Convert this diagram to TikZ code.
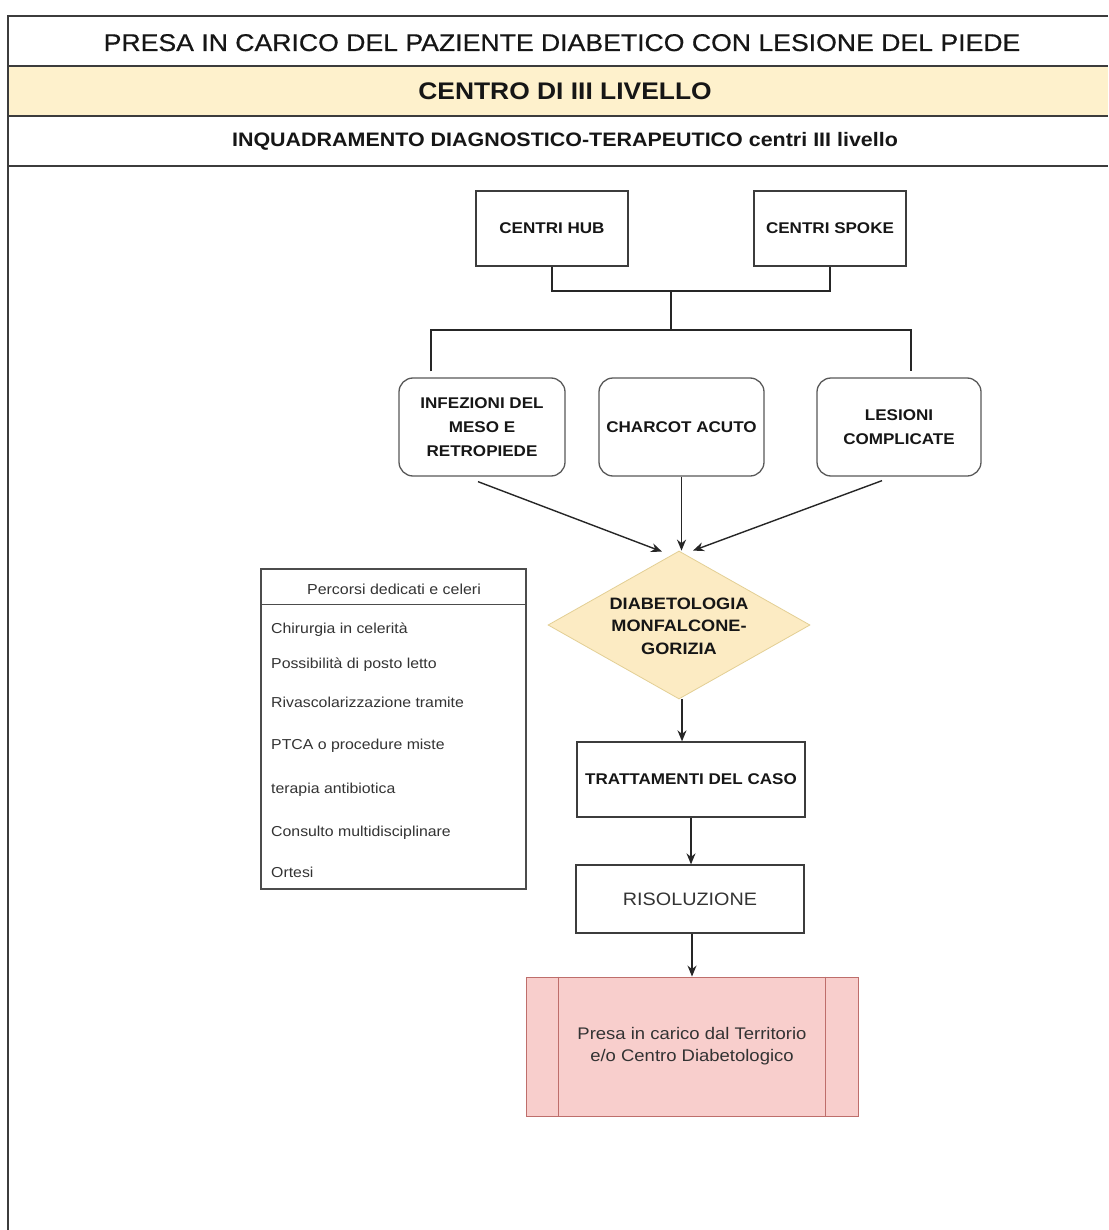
\documentclass[tikz,border=0pt]{standalone}
\usepackage{fontspec}
\setmainfont{Liberation Sans}[FakeStretch=1.1]
\newfontfamily\heavyfont{Liberation Sans}[FakeStretch=1.1,FakeBold=0.6]
\usetikzlibrary{shapes.geometric,arrows.meta,calc}

\definecolor{frameline}{HTML}{3C3C3C}
\definecolor{bandfill}{HTML}{FEF1CC}
\definecolor{diafill}{HTML}{FCEBC3}
\definecolor{diadraw}{HTML}{E3CF94}
\definecolor{pinkfill}{HTML}{F8CECC}
\definecolor{pinkdraw}{HTML}{BE6E6B}
\definecolor{txt}{HTML}{161616}
\definecolor{softtxt}{HTML}{333333}

\newcommand{\setfs}[2]{\fontsize{#1}{#2}\selectfont}

\begin{document}
\begin{tikzpicture}[x=1pt,y=-1pt,
  frame/.style={draw=frameline,line width=1.4pt},
  box/.style={draw=frameline,line width=1.3pt,fill=white,inner sep=0pt,
    align=center,text=txt,font=\setfs{15.5}{24}\bfseries},
  roundbox/.style={box,rounded corners=14pt,draw=black!65},
  tree/.style={draw=black!85,line width=2.6pt},
  arr/.style={draw=black!85,line width=1.4pt,-{Stealth[length=11pt,width=9pt]}},
  item/.style={anchor=base west,inner sep=0pt,text=softtxt,font=\setfs{14.4}{17}},
]
\useasboundingbox[fill=white] (0,0) rectangle (1108,1230);

% page frame and header bands
\fill[bandfill] (8,66) rectangle (1108,116);
\draw[frame] (1108,16) -- (8,16) -- (8,1230);
\draw[frame] (8,66) -- (1108,66);
\draw[frame] (8,116) -- (1108,116);
\draw[frame] (8,166) -- (1108,166);

\node[anchor=base,inner sep=0pt,text=txt,font=\heavyfont\setfs{24.2}{28}] (title) at (562,51)
  {PRESA IN CARICO DEL PAZIENTE DIABETICO CON LESIONE DEL PIEDE};
\node[anchor=base,inner sep=0pt,text=txt,font=\setfs{24}{28}\bfseries] (level) at (565,100)
  {CENTRO DI III LIVELLO};
\node[anchor=base,inner sep=0pt,text=txt,font=\setfs{19.5}{24}\bfseries] (subtitle) at (565,147)
  {INQUADRAMENTO DIAGNOSTICO-TERAPEUTICO centri III livello};

% referring centres
\node[box,minimum width=152pt,minimum height=75pt] (hub) at (552,228.5) {CENTRI HUB};
\node[box,minimum width=152pt,minimum height=75pt] (spoke) at (830,228.5) {CENTRI SPOKE};

% clinical pictures
\node[roundbox,minimum width=166pt,minimum height=98pt] (inf) at (482,427)
  {INFEZIONI DEL\\MESO E\\RETROPIEDE};
\node[roundbox,minimum width=165pt,minimum height=98pt] (cha) at (681.5,427)
  {CHARCOT ACUTO};
\node[roundbox,minimum width=164pt,minimum height=98pt] (les) at (899,427)
  {LESIONI\\COMPLICATE};

% tree joining the centres to the clinical pictures
\coordinate (j1) at (671,291);
\coordinate (j2) at (671,330);
\draw[tree] (hub.south) |- (j1) -| (spoke.south);
\draw[tree] (j1) -- (j2);
\draw[tree] ($(inf.north)+(-51,-6)$) |- (j2) -| ($(les.north)+(12,-6)$);

% diabetology decision
\node[diamond,draw=diadraw,fill=diafill,line width=0.8pt,inner sep=0pt,
  minimum width=262pt,minimum height=148pt] (dia) at (679,625) {};
\node[align=center,inner sep=0pt,text=txt,font=\setfs{16.5}{22.5}\bfseries] (diat) at (679,626)
  {DIABETOLOGIA\\MONFALCONE-\\GORIZIA};

\draw[arr] ($(inf.south)+(-4,5)$) -- ($(dia.north)+(-17,1)$);
\draw[arr] (cha.south) -- (cha.south |- dia.north);
\draw[arr] ($(les.south)+(-17,4)$) -- ($(dia.north)+(14,0)$);

% treatment chain
\node[box,minimum width=228pt,minimum height=75pt] (tra) at (691,779.5) {TRATTAMENTI DEL CASO};
\node[box,minimum width=228pt,minimum height=68pt,font=\setfs{18}{22},text=softtxt] (ris) at (690,899) {RISOLUZIONE};
\node[draw=pinkdraw,fill=pinkfill,line width=0.9pt,inner sep=0pt,align=center,
  text=softtxt,font=\setfs{16.8}{22},minimum width=332pt,minimum height=139pt] (pres) at (692,1046.5)
  {Presa in carico dal Territorio\\e/o Centro Diabetologico};
\draw[pinkdraw,line width=0.9pt] ($(pres.north west)+(33,0)$) -- ($(pres.south west)+(33,0)$);
\draw[pinkdraw,line width=0.9pt] ($(pres.north east)+(-33,0)$) -- ($(pres.south east)+(-33,0)$);

\coordinate (d1) at ($(dia.south)+(3,0)$);
\coordinate (r1) at ($(ris.south)+(2,0)$);
\draw[arr] (d1) -- (d1 |- tra.north);
\draw[arr] (tra.south) -- (tra.south |- ris.north);
\draw[arr] (r1) -- (r1 |- pres.north);

% dedicated pathways list
\node[draw=black!70,line width=1.1pt,fill=white,minimum width=265pt,minimum height=320pt,inner sep=0pt] (lst) at (393.5,729) {};
\draw[black!70,line width=1.1pt] ($(lst.north west)+(0,36)$) -- ($(lst.north east)+(0,36)$);
\node[inner sep=0pt,text=softtxt,font=\setfs{14.5}{17}] (lhead) at (394,589) {Percorsi dedicati e celeri};
\node[item] (l1) at (271,633) {Chirurgia in celerità};
\node[item] (l2) at (271,668) {Possibilità di posto letto};
\node[item] (l3) at (271,707) {Rivascolarizzazione tramite};
\node[item] (l4) at (271,749) {PTCA o procedure miste};
\node[item] (l5) at (271,793) {terapia antibiotica};
\node[item] (l6) at (271,836) {Consulto multidisciplinare};
\node[item] (l7) at (271,877) {Ortesi};
\end{tikzpicture}
\end{document}
